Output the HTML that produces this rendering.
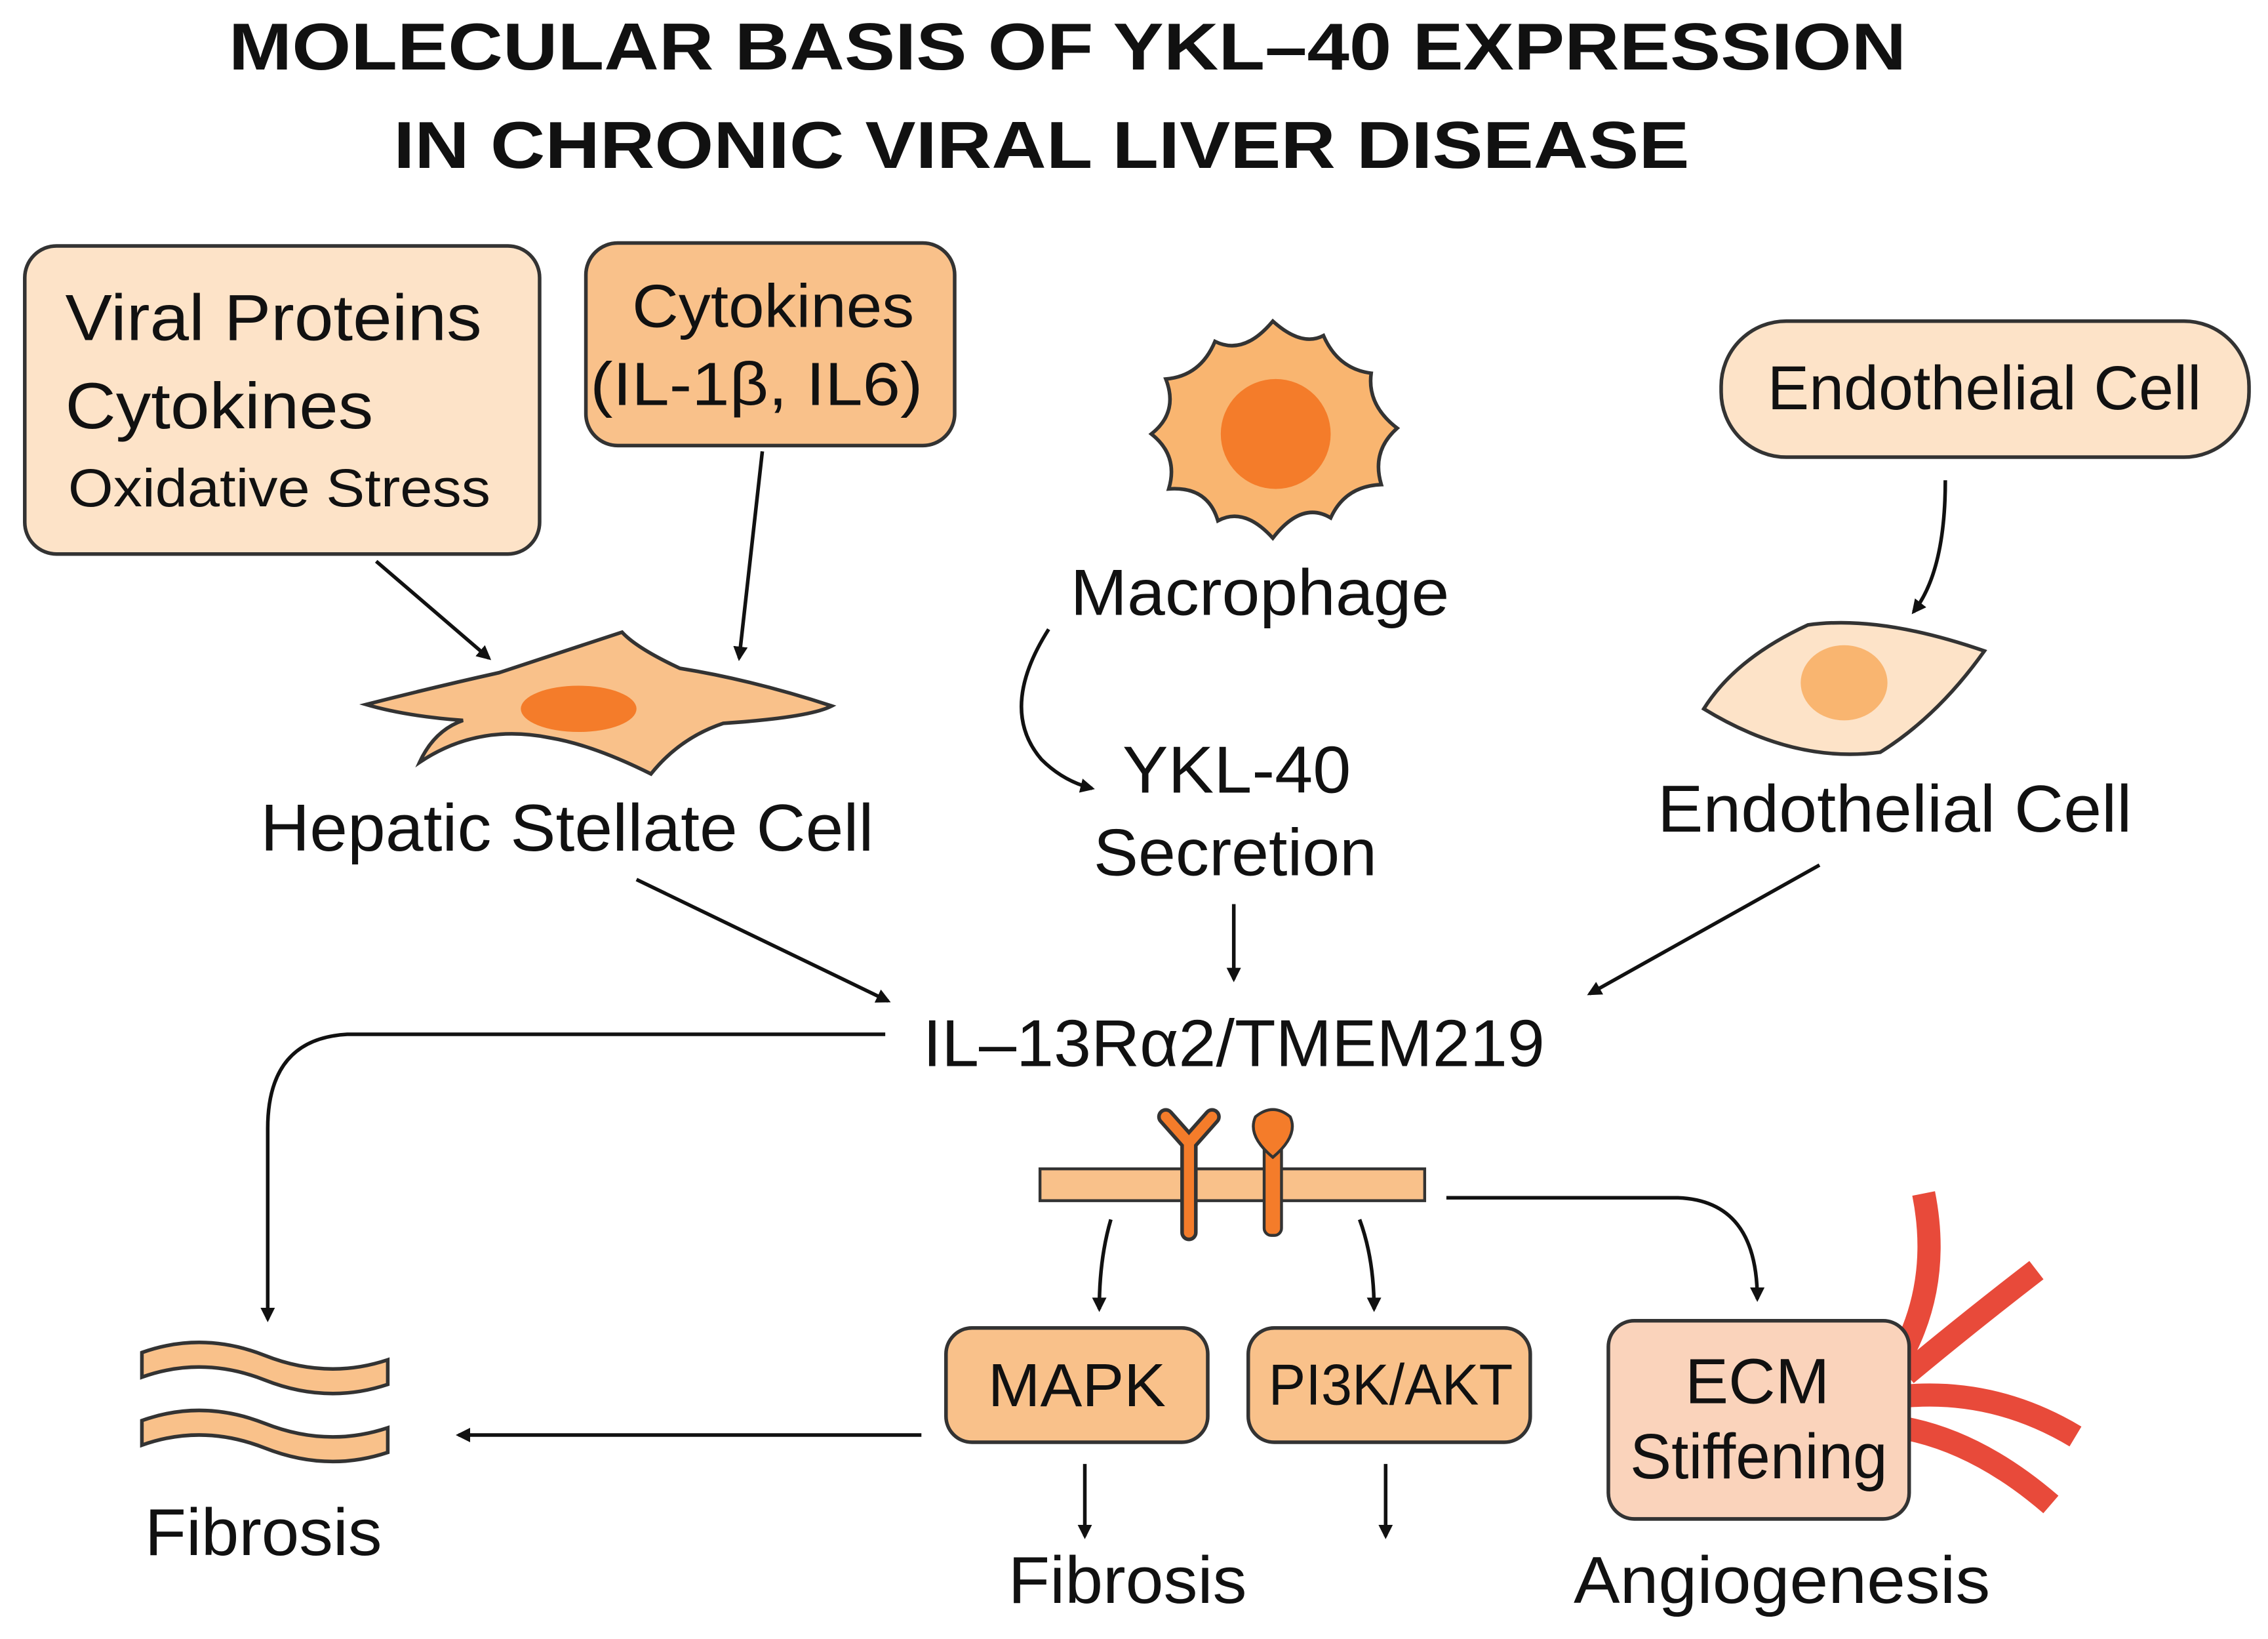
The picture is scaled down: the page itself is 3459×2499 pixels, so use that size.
<!DOCTYPE html>
<html><head><meta charset="utf-8"><style>
html,body{margin:0;padding:0;background:#fff;}
svg{display:block;}
text{font-family:"Liberation Sans",sans-serif;fill:#111;}
</style></head><body>
<svg width="3459" height="2499" viewBox="0 0 1568 1133" xmlns="http://www.w3.org/2000/svg">
<defs>
<marker id="ah" markerWidth="10" markerHeight="10" refX="8" refY="5" orient="auto" markerUnits="userSpaceOnUse" viewBox="0 0 10 10">
<path d="M0,0 L10,5 L0,10 z" fill="#111"/></marker>
</defs>
<rect width="1568" height="1133" fill="#fff"/>
<text x="158" y="48" font-size="46" font-weight="bold" textLength="1160" lengthAdjust="spacingAndGlyphs">MOLECULAR BASIS OF YKL–40 EXPRESSION</text>
<text x="272" y="116" font-size="46" font-weight="bold" textLength="896" lengthAdjust="spacingAndGlyphs">IN CHRONIC VIRAL LIVER DISEASE</text>

<rect x="17" y="170" width="356" height="213" rx="22" fill="#fde3c8" stroke="#333" stroke-width="2.5"/>
<text x="45" y="235" font-size="45" textLength="288" lengthAdjust="spacingAndGlyphs">Viral Proteins</text>
<text x="45" y="296" font-size="45" textLength="213" lengthAdjust="spacingAndGlyphs">Cytokines</text>
<text x="47" y="350" font-size="37" textLength="292" lengthAdjust="spacingAndGlyphs">Oxidative Stress</text>

<rect x="405" y="168" width="255" height="140" rx="22" fill="#f9c18a" stroke="#333" stroke-width="2.5"/>
<text x="437" y="226" font-size="42" textLength="195" lengthAdjust="spacingAndGlyphs">Cytokines</text>
<text x="408" y="280" font-size="42" textLength="230" lengthAdjust="spacingAndGlyphs">(IL-1β, IL6)</text>

<path d="M880,222 Q900,240 915,232 Q925,255 948,258 Q945,280 966,296 Q948,312 955,335 Q930,336 920,358 Q900,346 880,372 Q860,350 842,360 Q835,336 808,338 Q815,315 796,300 Q815,285 806,262 Q830,260 840,236 Q860,246 880,222 Z" fill="#f9b570" stroke="#333" stroke-width="2.5"/>
<circle cx="882" cy="300" r="38" fill="#f47c2a"/>
<text x="740" y="425" font-size="45" textLength="262" lengthAdjust="spacingAndGlyphs">Macrophage</text>

<rect x="1190" y="222" width="365" height="94" rx="45" fill="#fde3c8" stroke="#333" stroke-width="2.5"/>
<text x="1222" y="283" font-size="43" textLength="300" lengthAdjust="spacingAndGlyphs">Endothelial Cell</text>
<path d="M1345,332 Q1345,395 1323,423" fill="none" stroke="#111" stroke-width="2.5" marker-end="url(#ah)"/>
<path d="M1178,490 Q1200,455 1250,432 Q1300,425 1372,450 Q1340,495 1300,520 Q1240,528 1178,490 Z" fill="#fde3c8" stroke="#333" stroke-width="2.5"/>
<ellipse cx="1275" cy="472" rx="30" ry="26" fill="#f9b570"/>
<text x="1146" y="575" font-size="46" textLength="328" lengthAdjust="spacingAndGlyphs">Endothelial Cell</text>

<path d="M253,487 Q300,475 345,465 Q390,450 430,437 Q440,448 470,462 Q520,470 575,488 Q560,496 500,500 Q470,510 450,535 Q410,515 380,510 Q330,500 290,527 Q300,505 320,498 Q280,495 253,487 Z" fill="#f9c18a" stroke="#333" stroke-width="2.5"/>
<ellipse cx="400" cy="490" rx="40" ry="16" fill="#f47c2a"/>
<text x="180" y="588" font-size="46" textLength="424" lengthAdjust="spacingAndGlyphs">Hepatic Stellate Cell</text>

<line x1="260" y1="388" x2="338" y2="455" stroke="#111" stroke-width="2.5" marker-end="url(#ah)"/>
<line x1="527" y1="312" x2="511" y2="455" stroke="#111" stroke-width="2.5" marker-end="url(#ah)"/>
<path d="M725,435 Q690,490 720,525 Q735,540 755,545" fill="none" stroke="#111" stroke-width="2.5" marker-end="url(#ah)"/>
<text x="776" y="548" font-size="46" textLength="158" lengthAdjust="spacingAndGlyphs">YKL-40</text>
<text x="756" y="605" font-size="46" textLength="196" lengthAdjust="spacingAndGlyphs">Secretion</text>
<line x1="853" y1="625" x2="853" y2="677" stroke="#111" stroke-width="2.5" marker-end="url(#ah)"/>
<line x1="440" y1="608" x2="614" y2="692" stroke="#111" stroke-width="2.5" marker-end="url(#ah)"/>
<line x1="1258" y1="598" x2="1099" y2="687" stroke="#111" stroke-width="2.5" marker-end="url(#ah)"/>
<text x="638" y="737" font-size="46" textLength="430" lengthAdjust="spacingAndGlyphs">IL–13Rα2/TMEM219</text>
<path d="M612,715 L240,715 Q185,718 185,780 L185,912" fill="none" stroke="#111" stroke-width="2.5" marker-end="url(#ah)"/>

<rect x="719" y="808" width="266" height="22" fill="#f9c18a" stroke="#333" stroke-width="2"/>
<path d="M822,852 L822,790 M822,790 L806,772 M822,790 L838,772" stroke="#333" stroke-width="12" fill="none" stroke-linecap="round"/>
<path d="M822,852 L822,790 M822,790 L806,772 M822,790 L838,772" stroke="#f47c2a" stroke-width="7" fill="none" stroke-linecap="round"/>
<rect x="874" y="790" width="12" height="64" rx="5" fill="#f47c2a" stroke="#333" stroke-width="2"/>
<path d="M880,800 Q862,785 868,772 Q880,762 892,772 Q898,785 880,800 Z" fill="#f47c2a" stroke="#333" stroke-width="2"/>

<path d="M768,843 Q760,870 760,905" fill="none" stroke="#111" stroke-width="2.5" marker-end="url(#ah)"/>
<path d="M940,843 Q950,870 950,905" fill="none" stroke="#111" stroke-width="2.5" marker-end="url(#ah)"/>
<path d="M1000,828 L1160,828 Q1215,830 1215,898" fill="none" stroke="#111" stroke-width="2.5" marker-end="url(#ah)"/>

<rect x="654" y="918" width="181" height="79" rx="18" fill="#f9c18a" stroke="#333" stroke-width="2.5"/>
<text x="683" y="972" font-size="42" textLength="123" lengthAdjust="spacingAndGlyphs">MAPK</text>
<rect x="863" y="918" width="195" height="79" rx="18" fill="#f9c18a" stroke="#333" stroke-width="2.5"/>
<text x="877" y="971" font-size="40" textLength="169" lengthAdjust="spacingAndGlyphs">PI3K/AKT</text>

<g stroke="#e84a3a" stroke-width="16" fill="none">
<path d="M1300,960 Q1345,900 1330,825"/>
<path d="M1318,950 Q1360,915 1408,878"/>
<path d="M1318,965 Q1380,960 1435,993"/>
<path d="M1300,985 Q1360,990 1418,1040"/>
</g>
<rect x="1112" y="913" width="208" height="137" rx="18" fill="#fad3bb" stroke="#333" stroke-width="2.5"/>
<text x="1165" y="970" font-size="44" textLength="100" lengthAdjust="spacingAndGlyphs">ECM</text>
<text x="1127" y="1022" font-size="44" textLength="178" lengthAdjust="spacingAndGlyphs">Stiffening</text>

<line x1="750" y1="1012" x2="750" y2="1062" stroke="#111" stroke-width="2.5" marker-end="url(#ah)"/>
<line x1="958" y1="1012" x2="958" y2="1062" stroke="#111" stroke-width="2.5" marker-end="url(#ah)"/>
<text x="697" y="1108" font-size="46" textLength="165" lengthAdjust="spacingAndGlyphs">Fibrosis</text>
<text x="1088" y="1108" font-size="46" textLength="288" lengthAdjust="spacingAndGlyphs">Angiogenesis</text>
<line x1="637" y1="992" x2="317" y2="992" stroke="#111" stroke-width="2.5" marker-end="url(#ah)"/>

<g fill="#f9c18a" stroke="#333" stroke-width="2.5">
<path d="M98,935 Q140,920 183,937 Q226,954 268,940 L268,957 Q226,971 183,954 Q140,937 98,952 Z"/>
<path d="M98,982 Q140,967 183,984 Q226,1001 268,987 L268,1004 Q226,1018 183,1001 Q140,984 98,999 Z"/>
</g>
<text x="100" y="1075" font-size="46" textLength="164" lengthAdjust="spacingAndGlyphs">Fibrosis</text>
</svg>
</body></html>
